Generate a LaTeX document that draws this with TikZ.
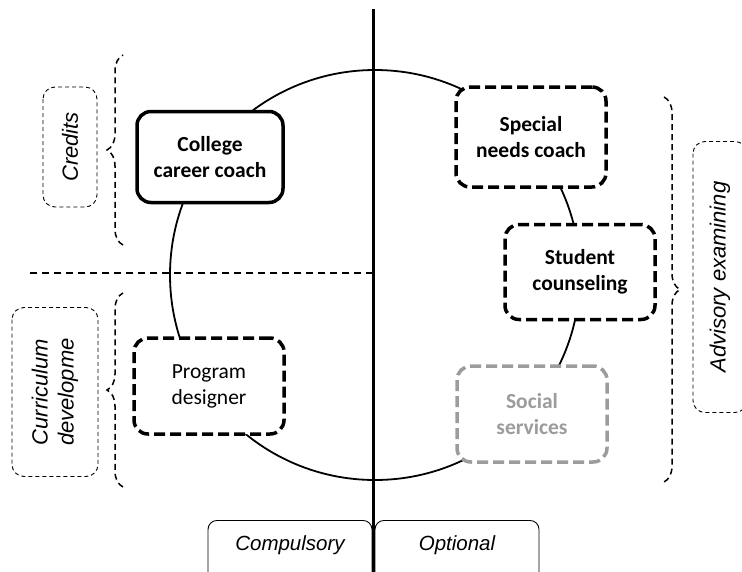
\documentclass[tikz,border=0pt]{standalone}
\usepackage{fontspec}
\setmainfont{Liberation Sans}
\newfontfamily\boxfont{Carlito}
\usetikzlibrary{calc,decorations.pathreplacing}

\definecolor{softgrey}{HTML}{9C9C9C}

\tikzset{
  rolebox/.style={draw=black, rounded corners=14pt, fill=white, line width=3.5pt,
    minimum width=150pt, minimum height=96pt, align=center,
    font=\boxfont\fontsize{21.5}{26}\selectfont},
  dashbox/.style={rolebox, dash pattern=on 11pt off 5pt},
  groupbox/.style={draw=black, rounded corners=12pt, line width=0.9pt,
    dash pattern=on 4pt off 3pt, align=center, rotate=90,
    font=\itshape\fontsize{22}{26}\selectfont},
  tabbox/.style={draw=black, rounded corners=9pt, line width=0.9pt,
    minimum width=164pt, inner sep=0pt, anchor=north,
    text height=30pt, text depth=40pt, font=\itshape\fontsize{20.5}{24}\selectfont},
  bracket/.style={line width=1.5pt, dash pattern=on 6pt off 4pt,
    decorate, decoration={brace, amplitude=16pt}}
}

\begin{document}
\begin{tikzpicture}[x=1pt, y=-1pt]
    \useasboundingbox (0,0) rectangle (742,571);
    \clip (0,0) rectangle (742,571);

    % ring behind the roles
    \node[draw=black, circle, line width=1.8pt, minimum size=410pt] (ring) at (375,275) {};

    % divider lines
    \coordinate (vtop) at (373,9);
    \coordinate (vbot) at (373,580);
    \draw[line width=3pt] (vtop) -- (vbot);
    \coordinate (hleft) at (30,273);
    \coordinate (hright) at (372,273);
    \draw[line width=1.5pt, dash pattern=on 7pt off 5pt] (hleft) -- (hright);

    % roles
    \node[rolebox, minimum width=146pt, minimum height=91pt] (coach) at (210,157) {\bfseries College\\\bfseries career coach};
    \node[dashbox] (designer) at (209,386) {Program\\designer};
    \node[dashbox, minimum height=100pt] (special) at (531,137) {\bfseries Special\\\bfseries needs coach};
    \node[dashbox, minimum height=95pt] (counsel) at (580,272) {\bfseries Student\\\bfseries counseling};
    \node[dashbox, draw=softgrey, text=softgrey] (social) at (532,414) {\bfseries Social\\\bfseries services};

    % groups on the sides
    \node[groupbox, minimum width=120pt, minimum height=54pt] (credits) at (70,147) {Credits};
    \node[groupbox, minimum width=169pt, minimum height=86pt] (curric) at (55,392) {Curriculum\\developme};
    \node[groupbox, minimum width=271pt, minimum height=54pt] (advisory) at (720,277) {Advisory examining};

    \coordinate (b1top) at (123,55);
    \coordinate (b1bot) at (123,245);
    \coordinate (b2top) at (123,293);
    \coordinate (b2bot) at (123,487);
    \coordinate (b3top) at (664,97);
    \coordinate (b3bot) at (664,482);
    \draw[bracket] (b1bot) -- (b1top);
    \draw[bracket] (b2bot) -- (b2top);
    \draw[bracket] (b3top) -- (b3bot);

    % tabs at the bottom
    \node[tabbox] (compulsory) at (290,520) {Compulsory};
    \node[tabbox] (optional) at (457,520) {Optional};

  \end{tikzpicture}
\end{document}
